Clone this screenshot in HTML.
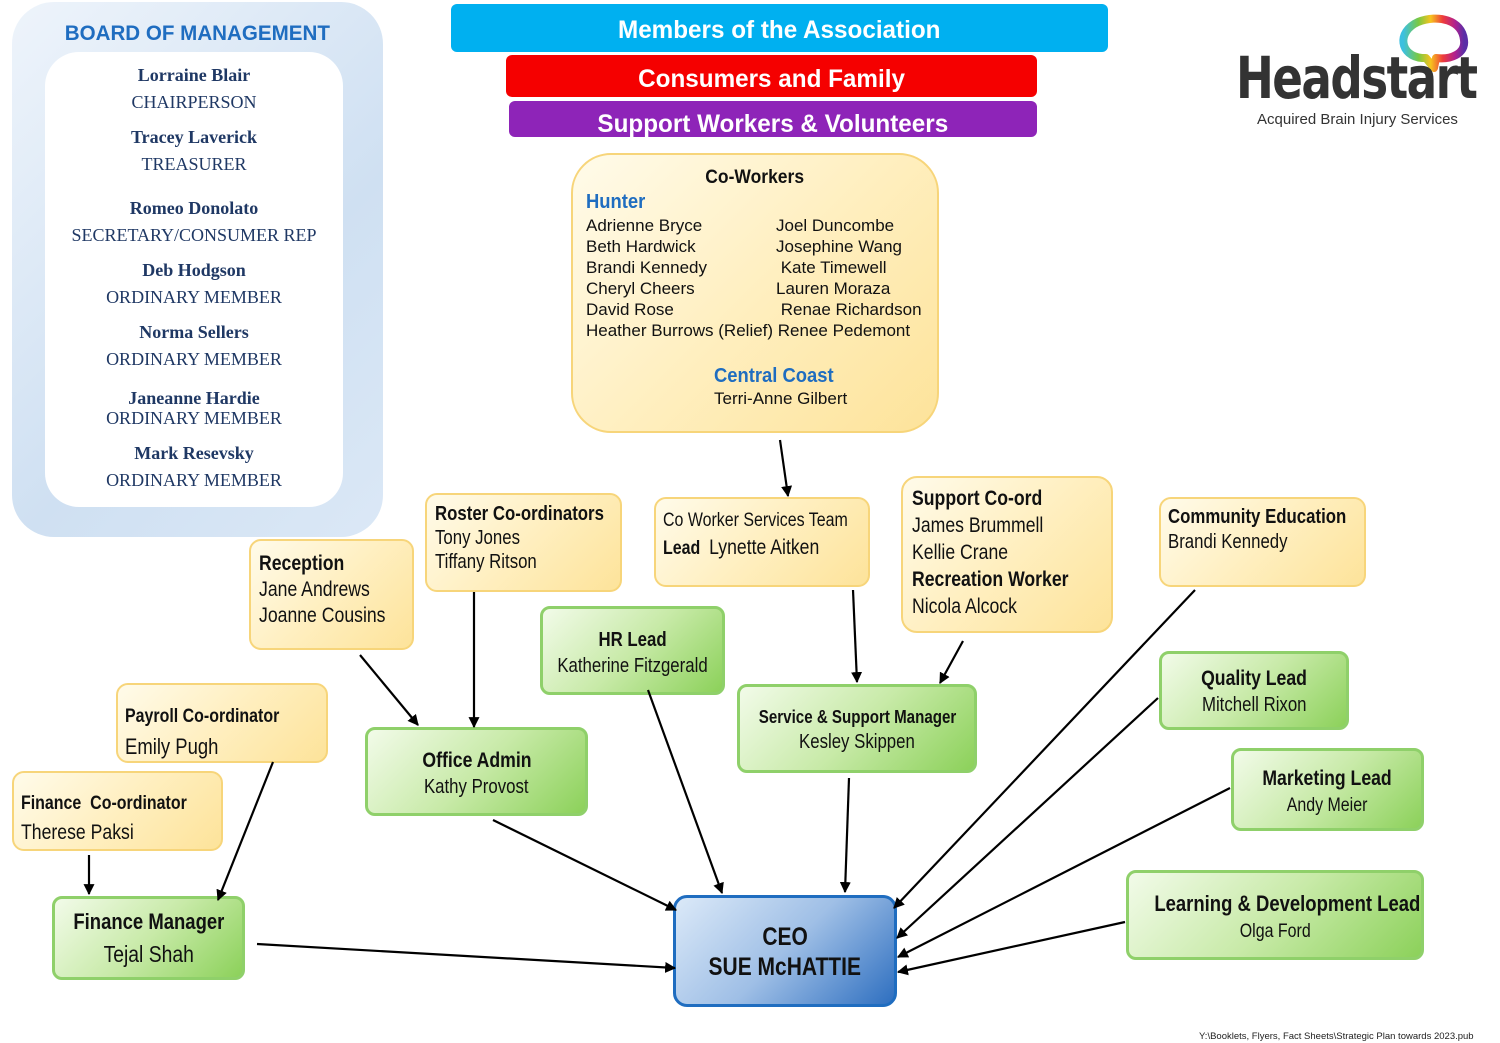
<!DOCTYPE html>
<html><head><meta charset="utf-8">
<style>
*{margin:0;padding:0;box-sizing:border-box}
body{width:1500px;height:1043px;background:#fff;position:relative;overflow:hidden;font-family:"Liberation Sans",sans-serif;color:#111}
.a{position:absolute}
.y{position:absolute;border:2px solid #f7d57a;border-radius:12px;background:linear-gradient(135deg,#fffbea 0%,#ffefc0 50%,#fde39a 100%)}
.g{position:absolute;border:3px solid #8fd06a;border-radius:10px;background:linear-gradient(135deg,#f2fbe9 0%,#c8eaa8 50%,#8cd15a 100%);text-align:center}
.n{font-family:"Liberation Sans Narrow","Liberation Sans",sans-serif}
.c{display:inline-block;transform:scaleX(.84);white-space:nowrap}
.cl{display:inline-block;transform:scaleX(.84);transform-origin:left;white-space:nowrap}
.bar{position:absolute;color:#fff;font-weight:bold;text-align:center;border-radius:6px}
.bd{font-family:"Liberation Serif",serif;color:#1f3864;text-align:center;width:100%;position:absolute;left:0;font-size:18px}
.bd b{font-size:18px}
</style></head><body>

<!-- Board -->
<div class="a" style="left:12px;top:2px;width:371px;height:535px;border-radius:42px;background:linear-gradient(135deg,#eef4fb,#cfe0f2 60%,#dbe8f6)"></div>
<div class="a" style="left:45px;top:52px;width:298px;height:455px;border-radius:34px;background:#fff"></div>
<div class="a" style="left:12px;top:22px;width:371px;text-align:center;color:#1f6dc0;font-weight:bold;font-size:21px"><span class="c" style="transform:scaleX(.98)">BOARD OF MANAGEMENT</span></div>
<div class="a" style="left:45px;top:0;width:298px;height:540px">
<div class="bd" style="top:65px"><b>Lorraine Blair</b></div>
<div class="bd" style="top:92px">CHAIRPERSON</div>
<div class="bd" style="top:127px"><b>Tracey Laverick</b></div>
<div class="bd" style="top:154px">TREASURER</div>
<div class="bd" style="top:198px"><b>Romeo Donolato</b></div>
<div class="bd" style="top:225px;left:-40px;width:378px">SECRETARY/CONSUMER REP</div>
<div class="bd" style="top:260px"><b>Deb Hodgson</b></div>
<div class="bd" style="top:287px">ORDINARY MEMBER</div>
<div class="bd" style="top:322px"><b>Norma Sellers</b></div>
<div class="bd" style="top:349px">ORDINARY MEMBER</div>
<div class="bd" style="top:388px"><b>Janeanne Hardie</b></div>
<div class="bd" style="top:408px">ORDINARY MEMBER</div>
<div class="bd" style="top:443px"><b>Mark Resevsky</b></div>
<div class="bd" style="top:470px">ORDINARY MEMBER</div>
</div>

<!-- Top bars -->
<div class="bar" style="left:451px;top:4px;width:657px;height:48px;background:#00b0f0;font-size:25px;line-height:52px"><span class="c" style="transform:scaleX(.97)">Members of the Association</span></div>
<div class="bar" style="left:506px;top:55px;width:531px;height:42px;background:#f50000;font-size:25px;line-height:48px"><span class="c" style="transform:scaleX(.97)">Consumers and Family</span></div>
<div class="bar" style="left:509px;top:101px;width:528px;height:36px;background:#8e24b8;font-size:25px;line-height:46px"><span class="c" style="transform:scaleX(.97)">Support Workers &amp; Volunteers</span></div>

<!-- Logo -->
<svg class="a" style="left:1390px;top:10px" width="84" height="70" viewBox="0 0 84 70">
<defs><linearGradient id="rb" x1="0" y1="0" x2="1" y2="0"><stop offset="0" stop-color="#3cc0e0"/><stop offset=".25" stop-color="#7ac943"/><stop offset=".45" stop-color="#f7c31e"/><stop offset=".65" stop-color="#ee3b3b"/><stop offset=".85" stop-color="#b0208f"/><stop offset="1" stop-color="#5a2ea6"/></linearGradient></defs>
<path d="M32 48 C10 46 6 22 28 12 C48 4 72 10 74 30 C76 44 60 50 46 48 L44 58 L36 48 Z" fill="none" stroke="url(#rb)" stroke-width="8" stroke-linejoin="round"/>
</svg>
<div class="a" style="left:1236px;top:44px;font-family:'DejaVu Sans',sans-serif;font-weight:bold;font-size:58px;color:#333;letter-spacing:-2px"><span class="cl" style="transform:scaleX(.78)">Headstart</span></div>
<div class="a" style="left:1257px;top:111px;font-size:15px;color:#333">Acquired Brain Injury Services</div>

<!-- Co-Workers -->
<div class="y" style="left:571px;top:153px;width:368px;height:280px;border-radius:40px"></div>
<div class="a" style="left:571px;top:167px;width:368px;text-align:center;font-weight:bold;font-size:19px"><span class="c" style="transform:scaleX(.92)">Co-Workers</span></div>
<div class="a" style="left:586px;top:191px;font-weight:bold;font-size:20px;color:#1f6dc0"><span class="cl" style="transform:scaleX(.92)">Hunter</span></div>
<div class="a" style="left:586px;top:215px;font-size:17px;line-height:21px">Adrienne Bryce<br>Beth Hardwick<br>Brandi Kennedy<br>Cheryl Cheers<br>David Rose<br>Heather Burrows (Relief) Renee Pedemont</div>
<div class="a" style="left:776px;top:215px;font-size:17px;line-height:21px">Joel Duncombe<br>Josephine Wang<br>&nbsp;Kate Timewell<br>Lauren Moraza<br>&nbsp;Renae Richardson</div>
<div class="a" style="left:714px;top:365px;font-weight:bold;font-size:20px;color:#1f6dc0"><span class="cl" style="transform:scaleX(.92)">Central Coast</span></div>
<div class="a" style="left:714px;top:389px;font-size:17px">Terri-Anne Gilbert</div>

<!-- Yellow boxes -->
<div class="y n" style="left:425px;top:493px;width:197px;height:99px;padding:7px 0 0 8px;font-size:20px;line-height:24px">
<b class="cl">Roster Co-ordinators</b><br><span class="cl">Tony Jones</span><br><span class="cl">Tiffany Ritson</span></div>
<div class="y n" style="left:249px;top:539px;width:165px;height:111px;padding:10px 0 0 8px;font-size:21px;line-height:26px">
<b class="cl">Reception</b><br><span class="cl">Jane Andrews</span><br><span class="cl">Joanne Cousins</span></div>
<div class="y n" style="left:654px;top:497px;width:216px;height:90px;padding:8px 0 0 7px;font-size:19px;line-height:27px">
<span class="cl">Co Worker Services Team</span><br><span class="cl"><b>Lead</b>&nbsp; <span style="font-size:21px">Lynette Aitken</span></span></div>
<div class="y n" style="left:901px;top:476px;width:212px;height:157px;border-radius:16px;padding:7px 0 0 9px;font-size:21px;line-height:27px">
<b class="cl">Support Co-ord</b><br><span class="cl">James Brummell</span><br><span class="cl">Kellie Crane</span><br><b class="cl" style="line-height:20px">Recreation Worker</b><br><span class="cl">Nicola Alcock</span></div>
<div class="y n" style="left:1159px;top:497px;width:207px;height:90px;padding:6px 0 0 7px;font-size:20px;line-height:25px">
<b class="cl">Community Education</b><br><span class="cl">Brandi Kennedy</span></div>
<div class="y n" style="left:116px;top:683px;width:212px;height:80px;padding:17px 0 0 7px;font-size:19px;line-height:30px">
<b class="cl">Payroll Co-ordinator</b><br><span class="cl" style="font-size:22px">Emily Pugh</span></div>
<div class="y n" style="left:12px;top:771px;width:211px;height:80px;padding:16px 0 0 7px;font-size:19px;line-height:29px">
<b class="cl">Finance&nbsp; Co-ordinator</b><br><span class="cl" style="font-size:21px">Therese Paksi</span></div>

<!-- Green boxes -->
<div class="g n" style="left:540px;top:606px;width:185px;height:89px;padding-top:18px;font-size:20px;line-height:26px"><b class="c">HR Lead</b><br><span class="c">Katherine Fitzgerald</span></div>
<div class="g n" style="left:737px;top:684px;width:240px;height:89px;padding-top:18px;font-size:18px;line-height:25px"><b class="c">Service &amp; Support Manager</b><br><span class="c" style="font-size:20px">Kesley Skippen</span></div>
<div class="g n" style="left:1159px;top:651px;width:190px;height:79px;padding-top:12px;font-size:21px;line-height:26px"><b class="c">Quality Lead</b><br><span class="c" style="font-size:20px">Mitchell Rixon</span></div>
<div class="g n" style="left:1231px;top:748px;width:193px;height:83px;padding-top:15px;font-size:21px;line-height:26px"><b class="c">Marketing Lead</b><br><span class="c" style="font-size:19px">Andy Meier</span></div>
<div class="g n" style="left:1126px;top:870px;width:298px;height:90px;padding-top:18px;font-size:22px;line-height:26px"><b class="c">Learning &amp; Development Lead</b><br><span class="c" style="font-size:19px">Olga Ford</span></div>
<div class="g n" style="left:365px;top:727px;width:223px;height:89px;padding-top:18px;font-size:21px;line-height:26px"><b class="c">Office Admin</b><br><span class="c" style="font-size:20px">Kathy Provost</span></div>
<div class="g n" style="left:52px;top:896px;width:193px;height:84px;padding-top:6px;font-size:22px;line-height:33px"><b class="c">Finance Manager</b><br><span class="c" style="font-size:23px">Tejal Shah</span></div>

<!-- CEO -->
<div class="a n" style="left:673px;top:895px;width:224px;height:112px;border:3px solid #1f6dc0;border-radius:14px;background:linear-gradient(135deg,#dbe9f8 0%,#9fbfe6 50%,#2e6fc0 100%);text-align:center;padding-top:24px;font-weight:bold;font-size:25px;line-height:30px"><span class="c">CEO</span><br><span class="c">SUE McHATTIE</span></div>

<!-- Arrows -->
<svg class="a" style="left:0;top:0" width="1500" height="1043">
<defs><marker id="ar" viewBox="0 0 10 10" refX="9" refY="5" markerWidth="5" markerHeight="5" orient="auto"><path d="M0 0 L10 5 L0 10 Z" fill="#000"/></marker></defs>
<g stroke="#000" stroke-width="2.2" fill="none" marker-end="url(#ar)">
<line x1="780" y1="440" x2="788" y2="496"/>
<line x1="360" y1="655" x2="418" y2="725"/>
<line x1="474" y1="592" x2="474" y2="727"/>
<line x1="853" y1="590" x2="857" y2="682"/>
<line x1="963" y1="641" x2="940" y2="683"/>
<line x1="273" y1="762" x2="218" y2="900"/>
<line x1="89" y1="855" x2="89" y2="894"/>
<line x1="493" y1="820" x2="676" y2="910"/>
<line x1="648" y1="690" x2="722" y2="893"/>
<line x1="849" y1="778" x2="845" y2="892"/>
<line x1="257" y1="944" x2="675" y2="968"/>
<line x1="1195" y1="590" x2="894" y2="908"/>
<line x1="1158" y1="698" x2="897" y2="938"/>
<line x1="1230" y1="788" x2="898" y2="957"/>
<line x1="1125" y1="922" x2="898" y2="972"/>
</g></svg>

<div class="a" style="left:1199px;top:1031px;font-size:9.5px;color:#222">Y:\Booklets, Flyers, Fact Sheets\Strategic Plan towards 2023.pub</div>
</body></html>
